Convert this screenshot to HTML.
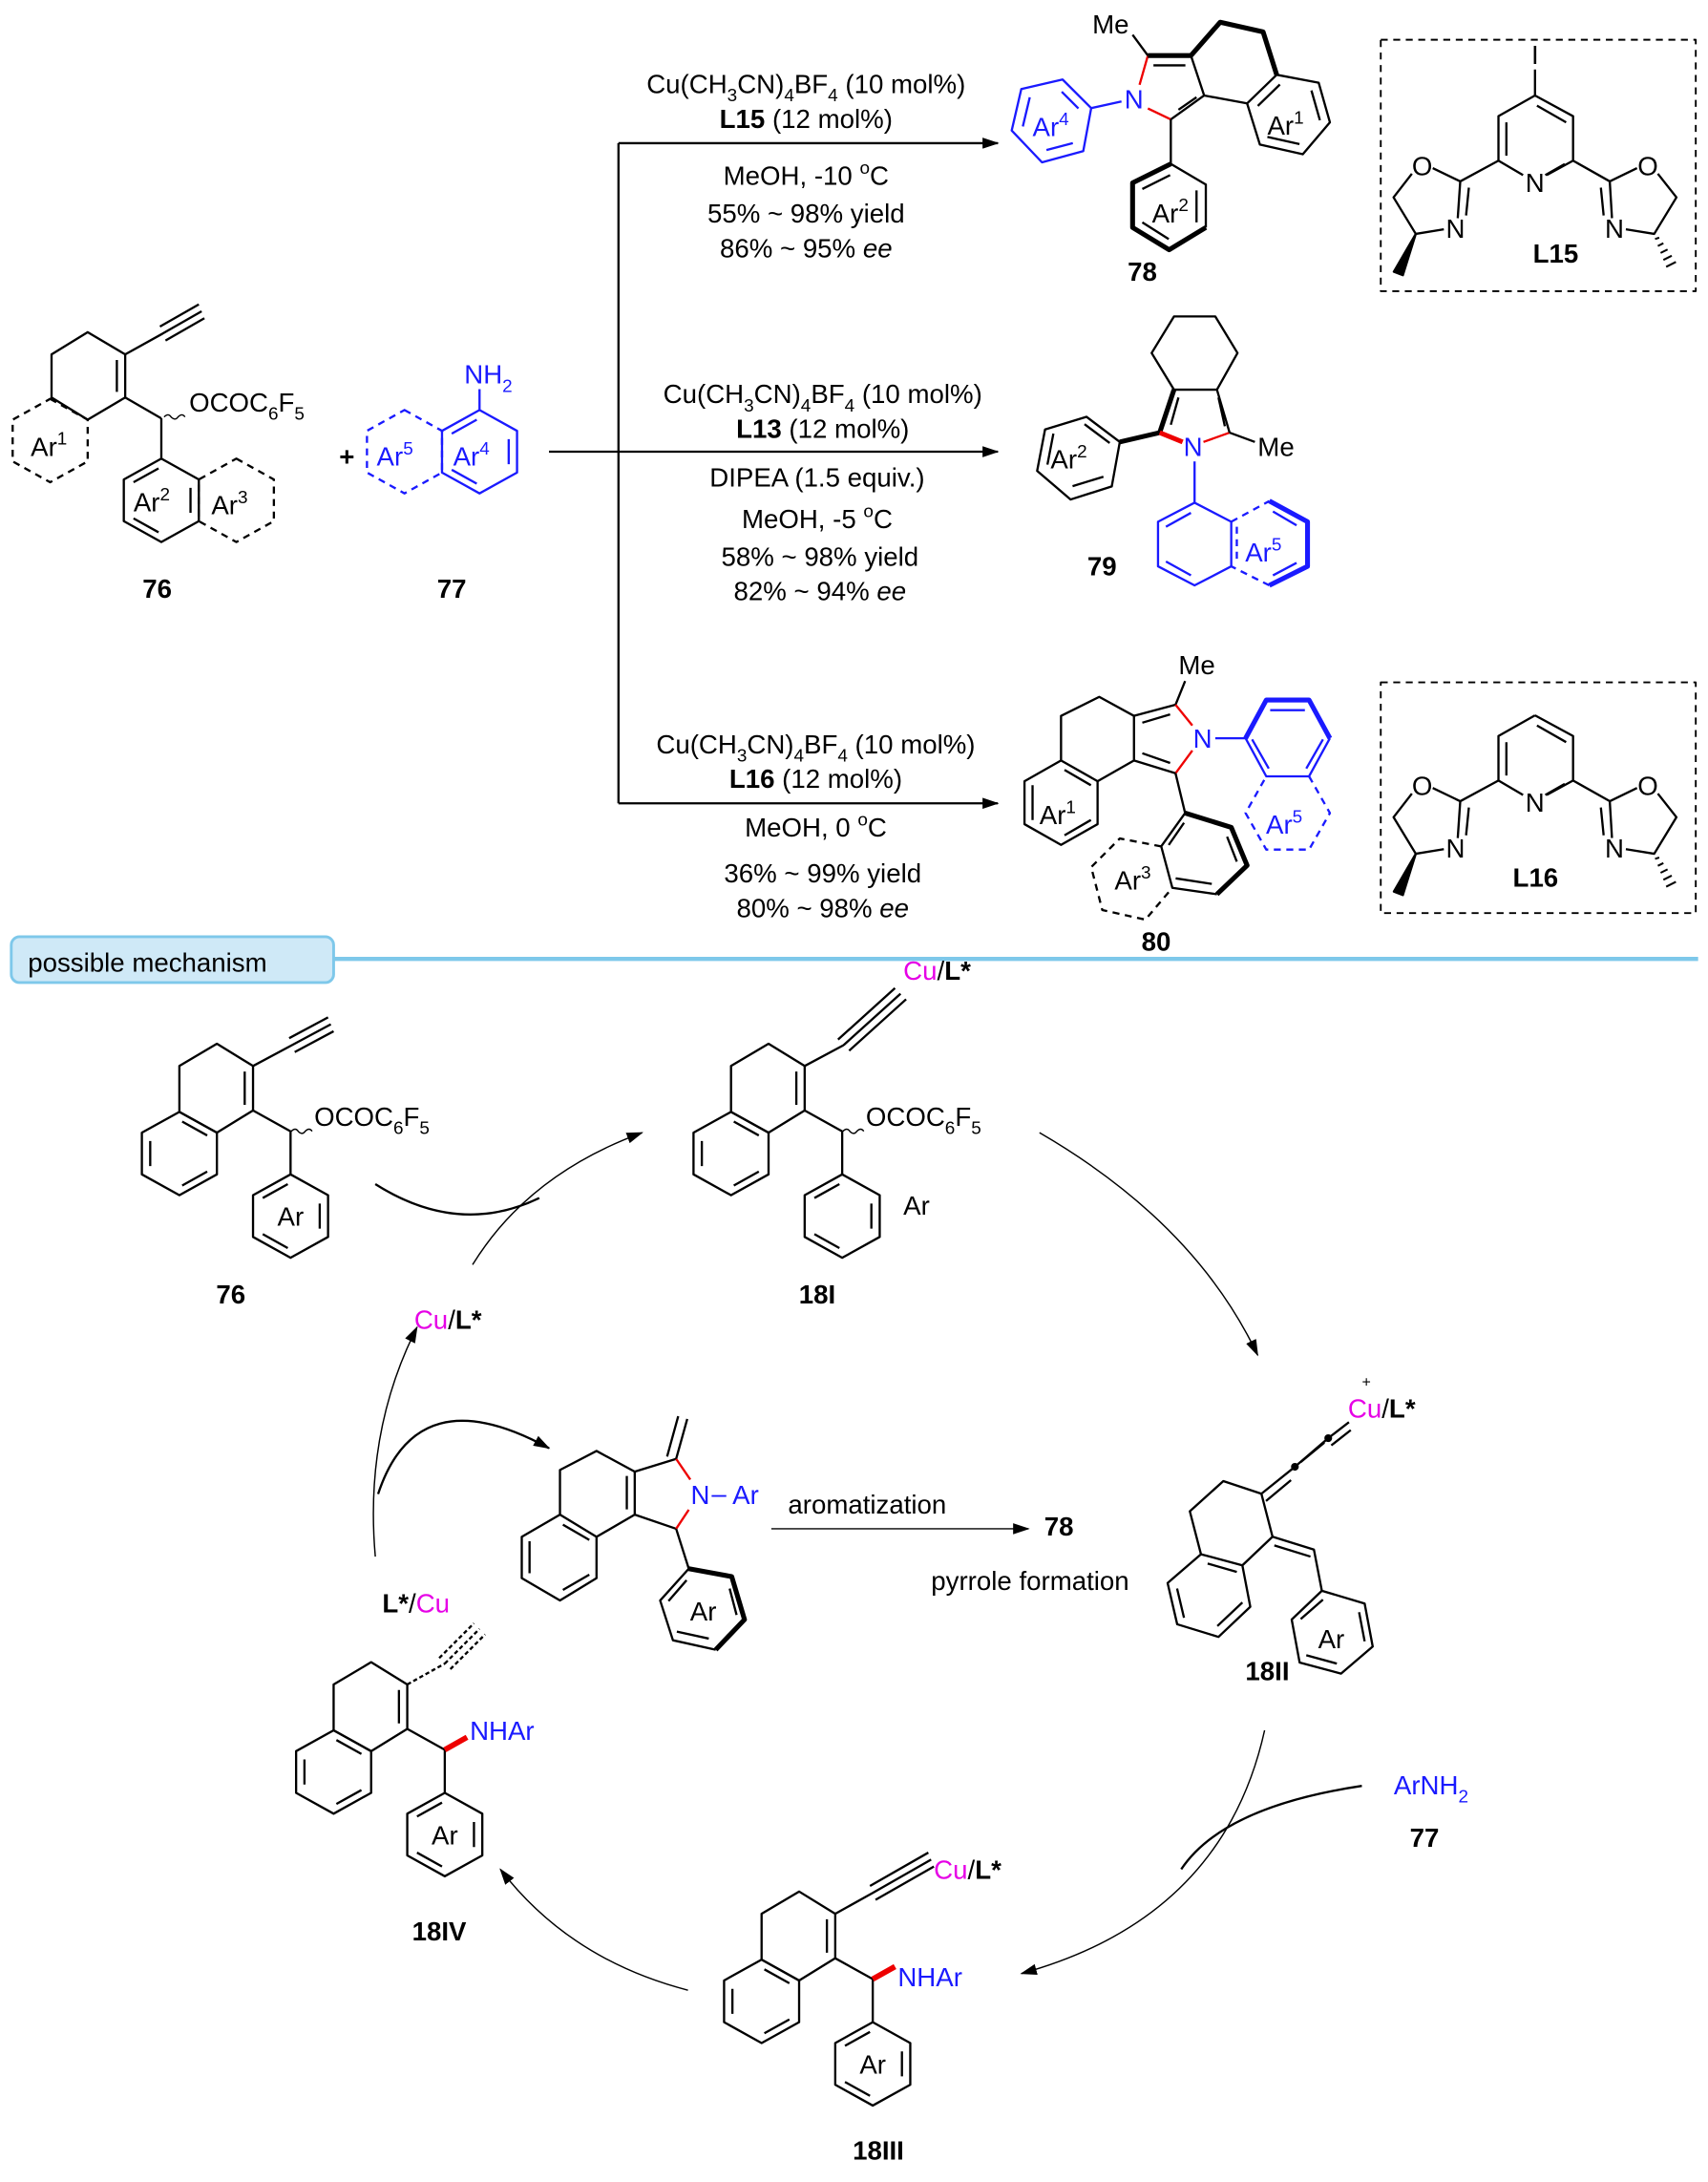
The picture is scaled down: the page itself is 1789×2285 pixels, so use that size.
<!DOCTYPE html>
<html><head><meta charset="utf-8"><style>
html,body{margin:0;padding:0;background:#fff}
svg{display:block}
text{font-family:"Liberation Sans",sans-serif;fill:#000}
.b{font-weight:bold}
.bl{fill:#1a1aff}
.mg{fill:#e600e6}
</style></head><body>
<svg width="1789" height="2285" viewBox="0 0 1229 1570" xmlns="http://www.w3.org/2000/svg">
<defs>
<symbol id="hex" overflow="visible"><polygon points="0,-30 27,-15 27,15 0,30 -27,15 -27,-15" fill="none"/></symbol>
<symbol id="bz" overflow="visible"><polygon points="0,-30 27,-15 27,15 0,30 -27,15 -27,-15" fill="none"/><path d="M-21,-9 L-21,9 M2,-23 L20,-13 M20,13 L2,23" fill="none"/></symbol>
<symbol id="bz2" overflow="visible"><polygon points="0,-30 27,-15 27,15 0,30 -27,15 -27,-15" fill="none"/><path d="M21,-9 L21,9 M-2,-23 L-20,-13 M-20,13 L-2,23" fill="none"/></symbol>
<symbol id="core" overflow="visible">
<use href="#bz"/>
<polygon points="27,-79 53,-63 53,-31 27,-15 0,-30 0,-63" fill="none"/>
<path d="M47,-59 L47,-35 M53,-31 L80,-16 L80,15" fill="none"/>
<g transform="translate(80,45)"><use href="#bz2"/></g>
</symbol>
<marker id="ah" markerWidth="12" markerHeight="8" refX="11" refY="4" orient="auto" markerUnits="userSpaceOnUse"><path d="M0,0 L12,4 L0,8 Z" fill="#000"/></marker>
</defs>
<g stroke="#000" stroke-width="1.6" fill="none" stroke-linejoin="round">

<g transform="translate(36,317)" stroke-dasharray="5,4"><use href="#hex"/></g>
<polygon points="63,239 90,255 90,286 63,302 37,286 37,255"/>
<path d="M84,259 L84,282 M90,255 L117,240 M117,240 L145,224 M115,235 L143,219 M119,245 L147,229 M90,286 L116,301"/>
<path d="M118,300 q3,-3 5,0 q3,3 5,0 q3,-3 5,0" stroke-width="1"/>
<path d="M116,301 L116,330"/>
<g transform="translate(116,360)"><use href="#bz2"/></g>
<g transform="translate(170,360)" stroke-dasharray="5,4"><use href="#hex"/></g>
<g transform="translate(345,325)" stroke="#1a1aff"><use href="#bz2"/></g>
<g transform="translate(291,325)" stroke="#1a1aff" stroke-dasharray="5,4"><use href="#hex"/></g>
<path d="M345,295 L345,280" stroke="#1a1aff"/>

<path d="M395,325 L718,325" marker-end="url(#ah)"/>
<path d="M445,103 L445,578"/>
<path d="M445,103 L718,103" marker-end="url(#ah)"/>
<path d="M445,578 L718,578" marker-end="url(#ah)"/>

<!-- 78 -->
<g stroke="#1a1aff">
<polygon points="764.6,57.2 785.2,77.8 779.5,108.7 749.8,116.8 728,93.9 734.9,64.1"/>
<path d="M764,66 L776,78 M772,103 L753,108 M736,91 L741,70"/>
<path d="M785.2,77.8 L807,73"/>
</g>
<path d="M820,61 L826,40 M826,78 L842.5,85.9" stroke="#e00"/>
<path d="M826,40 L857,40" stroke-width="3.5"/>
<path d="M830,47 L853,47 M857,40 L866.5,68.7 L842.5,85.9 M848,79 L861,70"/>
<path d="M815,25 L826,40"/>
<path d="M857,40 L878,16 L908.9,22.9 L918.7,53.8" stroke-width="3.5"/>
<path d="M866.5,68.7 L897.4,74.4"/>
<polygon points="918.7,53.8 948.9,59.5 957,88 937.5,111 906.6,104 897.4,74.4"/>
<path d="M943.7,65.1 L949.8,86.5 M935.1,103.7 L912,98.5 M905.1,76.2 L921,60.8"/>
<path d="M842.5,85.9 L842.5,117.9"/>
<path d="M842.5,117.9 L867.7,132.8 L867.7,163.7"/>
<path d="M867.7,163.7 L841.3,179.7 L815,163.7 L815,131.6 L842.5,117.9" stroke-width="3.5"/>
<path d="M842,126 L822,136 M861,137 L861,160 M841,172 L822,160"/>

<!-- L15 -->
<rect x="993.6" y="28.6" width="226.7" height="180.9" stroke-dasharray="5,4" stroke-width="1.3"/>
<path d="M1104.6,50 L1104.6,68.7"/>
<g id="lig">
<path d="M1104.6,68.7 L1132,83.6 L1132,115.6 L1113,126 M1096,126 L1078.3,115.6 L1078.3,83.6 L1104.6,68.7"/>
<path d="M1084,88 L1084,112 M1106,76 L1127,88 M1126,118 L1112,126"/>
<path d="M1078.3,115.6 L1050.8,130.5 L1031,121 M1016,125 L1002.8,142 L1018.8,168.3 L1039,165 M1049,157 L1050.8,130.5 M1055,155 L1057,135"/>
<polygon points="1018.8,168.3 1003,195.5 1009.5,198" fill="#000"/>
<path d="M1132,115.6 L1158.4,130.5 L1178,121 M1193,125 L1206.4,142 L1190.4,168.3 L1170,165 M1160,157 L1158.4,130.5 M1154,155 L1152,135"/>
<path d="M1191,172 L1194,171 M1193,177 L1197,175 M1195,182 L1200,179.5 M1197,187 L1203,184 M1199,192 L1206,188.5" stroke-width="1.4"/>
</g>

<!-- 79 -->
<polygon points="805.8,318 781.8,299.9 752,309 746.3,338.8 770.4,359.4 800,350"/>
<path d="M798.5,318.8 L780.4,305.2 M758,312 L753.7,334.3 M771.8,349.8 L794,343"/>
<path d="M805.8,318 L834.5,311.3" stroke-width="3.5"/>
<path d="M834.5,311.3 L844.8,280.4" stroke-width="3.5"/>
<path d="M834.5,311.3 L851,318" stroke="#e00" stroke-width="3.5"/>
<path d="M884.8,311.3 L866,318" stroke="#e00"/>
<path d="M844.8,280.4 L875.7,280.4 L884.8,311.3 M848,286 L842.5,305.6 M876.8,286 L881.4,306.7 M884.8,311.3 L903,318"/>
<path d="M844.8,280.4 L828.7,254 L844.8,227.7 L874.5,227.7 L890.5,254 L875.7,280.4"/>
<g stroke="#1a1aff">
<path d="M859.6,332 L859.6,361.7"/>
<path d="M886,375.4 L859.6,361.7 L833.3,375.4 L833.3,407.5 L859.6,421.2 L886,407.5 L886,375.4"/>
<path d="M839,379 L857,369 M839,404 L857,414"/>
<path d="M890,379 L890,404 M886,375.4 L913.4,360.5 M913.4,421.2 L886,407.5" stroke-dasharray="5,4"/>
<path d="M913.4,360.5 L940.9,375.4 L940.9,407.5 L913.4,421.2" stroke-width="3.5"/>
<path d="M916,368 L933,378 M933,405 L916,414"/>
</g>

<!-- 80 -->
<path d="M852.8,490 L845.9,507.1 L816,515.1 L791,501.4 L763.5,515.1 L763.5,547.2"/>
<path d="M845.9,507.1 L858,522 M845.9,556.4 L858,540" stroke="#e00"/>
<path d="M816,515.1 L816,547.2 L845.9,556.4 M822,520 L842,514 M822,542 L842,549"/>
<polygon points="763.5,547.2 789.8,562.1 789.8,593 763.5,607.9 737.2,593 737.2,562.1"/>
<path d="M743,565 L743,590 M766,554 L785,565 M785,590 L766,601 M789.8,562.1 L816,547.2"/>
<path d="M845.9,556.4 L852.8,585"/>
<path d="M852.8,585 L886,595.3 L897.4,622.7 L875.7,643.4" stroke-width="3.5"/>
<path d="M875.7,643.4 L843.6,638.8 L835.6,609 L852.8,585 M852,592 L841,608 M883,602 L890,620 M846,632 L872,636"/>
<path d="M835.6,609 L805.8,603.3 L785.2,623.9 L793.2,654.8 L824.2,661.7 L843.6,638.8" stroke-dasharray="5,4"/>
<path d="M874.5,531.2 L896.3,531.2" stroke="#1a1aff"/>
<g stroke="#1a1aff">
<path d="M896.3,531.2 L911.2,503.7 L942,503.7 L957,531.2" stroke-width="3.5"/>
<path d="M957,531.2 L942,558.6 L911.2,558.6 L896.3,531.2 M914,511 L939,511 M952,532 L940,553 M901,532 L913,553"/>
<path d="M942,558.6 L957,585 L942,611.3 L911.2,611.3 L896.3,585 L911.2,558.6" stroke-dasharray="5,4"/>
</g>

<!-- L16 -->
<rect x="993.6" y="491" width="226.7" height="166" stroke-dasharray="5,4" stroke-width="1.3"/>
<use href="#lig" y="446"/>

<path d="M240,690 L1222,690" stroke="#7ec8ea" stroke-width="3"/>

<!-- 76 mech -->
<g transform="translate(129,830)"><use href="#core"/></g>
<path d="M182,767 L210,752 M210,752 L238,737 M208,747 L236,732 M212,757 L240,742"/>
<path d="M209.5,814 q3,-3 5,0 q3,3 5,0 q3,-3 5,0" stroke-width="1"/>
<!-- 18I -->
<g transform="translate(526,830)"><use href="#core"/></g>
<path d="M579,767 L607,752 M607,752 L648,715 M603,748 L644,711 M611,756 L652,719"/>
<path d="M606.5,814 q3,-3 5,0 q3,3 5,0 q3,-3 5,0" stroke-width="1"/>
<!-- 18II -->
<polygon points="864.2,1118.3 894,1126.3 899.7,1156.1 876.8,1177.8 847.1,1168.7 840.2,1139"/>
<path d="M847,1143 L852,1164 M869,1125 L890,1131 M894,1153 L876,1170"/>
<path d="M864.2,1118.3 L856.2,1087.4 L880.3,1065.7 L907.7,1074.8 L915.7,1105.7 L894,1126.3"/>
<path d="M907.7,1074.8 L931.8,1055.4 L955.8,1034.8 L970.7,1023.3 M911,1080 L929,1065 M936,1052 L953,1038 M958,1040 L972,1029"/>
<circle cx="931.8" cy="1055.4" r="2" fill="#000"/>
<circle cx="955.8" cy="1034.8" r="2" fill="#000"/>
<path d="M915.7,1105.7 L945.5,1115 L951.2,1144.6 M917,1112 L943,1120"/>
<polygon points="951.2,1144.6 982,1153.8 987.8,1184.7 965,1204.2 935.2,1196.2 929.5,1165.3"/>
<path d="M978,1160 L982,1181 M952,1151 L936,1165 M940,1191 L962,1197"/>
<!-- 18IV -->
<g transform="translate(240,1275)"><use href="#core"/></g>
<path d="M293,1212 L320,1197 M320,1197 L345,1172 M316,1193 L341,1168 M324,1201 L349,1176" stroke-dasharray="3,2"/>
<path d="M320,1259 L336,1250" stroke="#e00" stroke-width="4"/>
<!-- 18III -->
<g transform="translate(548,1440)"><use href="#core"/></g>
<path d="M601,1377 L628,1362 M628,1362 L670,1338 M626,1357 L668,1333 M630,1367 L672,1343"/>
<path d="M628,1424 L644,1415" stroke="#e00" stroke-width="4"/>
<!-- intermediate -->
<polygon points="402.9,1089.8 429.2,1105.8 429.2,1135.5 402.9,1151.6 375.4,1135.5 375.4,1105.8"/>
<path d="M381,1109 L381,1132 M405,1097 L424,1108 M424,1133 L405,1144"/>
<path d="M402.9,1089.8 L402.9,1057.7 L429.2,1044 L456.7,1058.9 L456.7,1089.8 L429.2,1105.8 M451,1062 L451,1086"/>
<path d="M456.7,1058.9 L486.5,1049.7 M456.7,1089.8 L486.5,1100"/>
<path d="M486.5,1049.7 L496.7,1064.6 M495.6,1086.3 L486.5,1100" stroke="#e00"/>
<path d="M486.5,1049.7 L494.5,1021 M480,1048 L488,1019"/>
<path d="M486.5,1100 L495.6,1128.7"/>
<path d="M495.6,1128.7 L526.5,1134.4 L535.7,1165.3 L515,1187" stroke-width="3.5"/>
<path d="M515,1187 L484.2,1180.2 L475,1151.6 L495.6,1128.7 M494,1137 L481,1152 M525,1143 L530,1162 M487,1174 L510,1179"/>

<path d="M270,852 Q330,890 388,862"/>
<path d="M340,910 Q380,845 462,815" marker-end="url(#ah)" stroke-width="1"/>
<path d="M748,815 Q860,880 905,975" marker-end="url(#ah)" stroke-width="1"/>
<path d="M910,1245 Q880,1380 735,1420" marker-end="url(#ah)" stroke-width="1"/>
<path d="M980,1285 Q880,1300 850,1345" stroke-width="1.6"/>
<path d="M495,1432 Q410,1410 360,1345" marker-end="url(#ah)" stroke-width="1"/>
<path d="M270,1120 Q262,1030 300,955" marker-end="url(#ah)" stroke-width="1"/>
<path d="M272,1075 Q300,990 395,1042" marker-end="url(#ah)" stroke-width="1.6"/>
<path d="M555,1100 L740,1100" marker-end="url(#ah)" stroke-width="1"/>
</g>

<rect x="8" y="674" width="232" height="33" rx="6" fill="#cfe9f7" stroke="#7ec8ea" stroke-width="2"/>
<text x="20" y="699" font-size="19">possible mechanism</text>

<g font-size="19">
<text x="22" y="328">Ar<tspan font-size="13" dy="-8">1</tspan></text>
<text x="136" y="296">OCOC<tspan font-size="13" dy="6">6</tspan><tspan dy="-6">F</tspan><tspan font-size="13" dy="6">5</tspan></text>
<text x="96" y="368">Ar<tspan font-size="13" dy="-8">2</tspan></text>
<text x="152" y="370">Ar<tspan font-size="13" dy="-8">3</tspan></text>
<text x="244" y="335" class="b">+</text>
<text x="334" y="276" class="bl">NH<tspan font-size="13" dy="6">2</tspan></text>
<text x="271" y="335" class="bl">Ar<tspan font-size="13" dy="-8">5</tspan></text>
<text x="326" y="335" class="bl">Ar<tspan font-size="13" dy="-8">4</tspan></text>
<text x="113" y="430" class="b" text-anchor="middle">76</text>
<text x="325" y="430" class="b" text-anchor="middle">77</text>

<text x="580" y="67" text-anchor="middle">Cu(CH<tspan font-size="13" dy="6">3</tspan><tspan dy="-6">CN)</tspan><tspan font-size="13" dy="6">4</tspan><tspan dy="-6">BF</tspan><tspan font-size="13" dy="6">4</tspan><tspan dy="-6"> (10 mol%)</tspan></text>
<text x="580" y="92" text-anchor="middle"><tspan class="b">L15</tspan> (12 mol%)</text>
<text x="580" y="133" text-anchor="middle">MeOH, -10 <tspan font-size="13" dy="-8">o</tspan><tspan dy="8">C</tspan></text>
<text x="580" y="160" text-anchor="middle">55% ~ 98% yield</text>
<text x="580" y="185" text-anchor="middle">86% ~ 95% <tspan font-style="italic">ee</tspan></text>

<text x="592" y="290" text-anchor="middle">Cu(CH<tspan font-size="13" dy="6">3</tspan><tspan dy="-6">CN)</tspan><tspan font-size="13" dy="6">4</tspan><tspan dy="-6">BF</tspan><tspan font-size="13" dy="6">4</tspan><tspan dy="-6"> (10 mol%)</tspan></text>
<text x="592" y="315" text-anchor="middle"><tspan class="b">L13</tspan> (12 mol%)</text>
<text x="588" y="350" text-anchor="middle">DIPEA (1.5 equiv.)</text>
<text x="588" y="380" text-anchor="middle">MeOH, -5 <tspan font-size="13" dy="-8">o</tspan><tspan dy="8">C</tspan></text>
<text x="590" y="407" text-anchor="middle">58% ~ 98% yield</text>
<text x="590" y="432" text-anchor="middle">82% ~ 94% <tspan font-style="italic">ee</tspan></text>

<text x="587" y="542" text-anchor="middle">Cu(CH<tspan font-size="13" dy="6">3</tspan><tspan dy="-6">CN)</tspan><tspan font-size="13" dy="6">4</tspan><tspan dy="-6">BF</tspan><tspan font-size="13" dy="6">4</tspan><tspan dy="-6"> (10 mol%)</tspan></text>
<text x="587" y="567" text-anchor="middle"><tspan class="b">L16</tspan> (12 mol%)</text>
<text x="587" y="602" text-anchor="middle">MeOH, 0 <tspan font-size="13" dy="-8">o</tspan><tspan dy="8">C</tspan></text>
<text x="592" y="635" text-anchor="middle">36% ~ 99% yield</text>
<text x="592" y="660" text-anchor="middle">80% ~ 98% <tspan font-style="italic">ee</tspan></text>

<text x="743" y="98" class="bl">Ar<tspan font-size="13" dy="-8">4</tspan></text>
<text x="816" y="78" class="bl" text-anchor="middle">N</text>
<text x="786" y="24">Me</text>
<text x="912" y="97">Ar<tspan font-size="13" dy="-8">1</tspan></text>
<text x="829" y="160">Ar<tspan font-size="13" dy="-8">2</tspan></text>
<text x="822" y="202" class="b" text-anchor="middle">78</text>

<text x="756" y="337">Ar<tspan font-size="13" dy="-8">2</tspan></text>
<text x="858.5" y="328" class="bl" text-anchor="middle">N</text>
<text x="905" y="328">Me</text>
<text x="896" y="404" class="bl">Ar<tspan font-size="13" dy="-8">5</tspan></text>
<text x="793" y="414" class="b" text-anchor="middle">79</text>

<text x="848" y="485">Me</text>
<text x="865.4" y="538" class="bl" text-anchor="middle">N</text>
<text x="748" y="593">Ar<tspan font-size="13" dy="-8">1</tspan></text>
<text x="911" y="600" class="bl">Ar<tspan font-size="13" dy="-8">5</tspan></text>
<text x="802" y="640">Ar<tspan font-size="13" dy="-8">3</tspan></text>
<text x="832" y="684" class="b" text-anchor="middle">80</text>

<text x="1104.6" y="46" text-anchor="middle">I</text>
<text x="1104.6" y="138" text-anchor="middle">N</text>
<text x="1023.4" y="126" text-anchor="middle">O</text>
<text x="1185.8" y="126" text-anchor="middle">O</text>
<text x="1047.4" y="171" text-anchor="middle">N</text>
<text x="1161.8" y="171" text-anchor="middle">N</text>
<text x="1119.5" y="189" class="b" text-anchor="middle">L15</text>
<text x="1104.6" y="584" text-anchor="middle">N</text>
<text x="1023.4" y="572" text-anchor="middle">O</text>
<text x="1185.8" y="572" text-anchor="middle">O</text>
<text x="1047.4" y="617" text-anchor="middle">N</text>
<text x="1161.8" y="617" text-anchor="middle">N</text>
<text x="1105" y="638" class="b" text-anchor="middle">L16</text>

<text x="226" y="810">OCOC<tspan font-size="13" dy="6">6</tspan><tspan dy="-6">F</tspan><tspan font-size="13" dy="6">5</tspan></text>
<text x="209" y="882" text-anchor="middle">Ar</text>
<text x="166" y="938" class="b" text-anchor="middle">76</text>
<text x="623" y="810">OCOC<tspan font-size="13" dy="6">6</tspan><tspan dy="-6">F</tspan><tspan font-size="13" dy="6">5</tspan></text>
<text x="650" y="874">Ar</text>
<text x="650" y="705"><tspan class="mg">Cu</tspan>/<tspan class="b">L*</tspan></text>
<text x="588" y="938" class="b" text-anchor="middle">18I</text>
<text x="298" y="956"><tspan class="mg">Cu</tspan>/<tspan class="b">L*</tspan></text>
<text x="970" y="1020"><tspan class="mg">Cu</tspan>/<tspan class="b">L*</tspan></text>
<text x="980" y="998" font-size="11">+</text>
<text x="958" y="1186" text-anchor="middle">Ar</text>
<text x="912" y="1209" class="b" text-anchor="middle">18II</text>
<text x="497" y="1082" class="bl">N</text>
<text x="512" y="1081" class="bl">–</text>
<text x="527" y="1082" class="bl">Ar</text>
<text x="506" y="1166" text-anchor="middle">Ar</text>
<text x="567" y="1089">aromatization</text>
<text x="762" y="1105" class="b" text-anchor="middle">78</text>
<text x="670" y="1144">pyrrole formation</text>
<text x="275" y="1160"><tspan class="b">L*</tspan>/<tspan class="mg">Cu</tspan></text>
<text x="338" y="1252" class="bl">NHAr</text>
<text x="320" y="1327" text-anchor="middle">Ar</text>
<text x="316" y="1396" class="b" text-anchor="middle">18IV</text>
<text x="672" y="1352"><tspan class="mg">Cu</tspan>/<tspan class="b">L*</tspan></text>
<text x="646" y="1429" class="bl">NHAr</text>
<text x="628" y="1492" text-anchor="middle">Ar</text>
<text x="632" y="1554" class="b" text-anchor="middle">18III</text>
<text x="1003" y="1291" class="bl">ArNH<tspan font-size="13" dy="6">2</tspan></text>
<text x="1025" y="1329" class="b" text-anchor="middle">77</text>
</g>
</svg>
</body></html>
